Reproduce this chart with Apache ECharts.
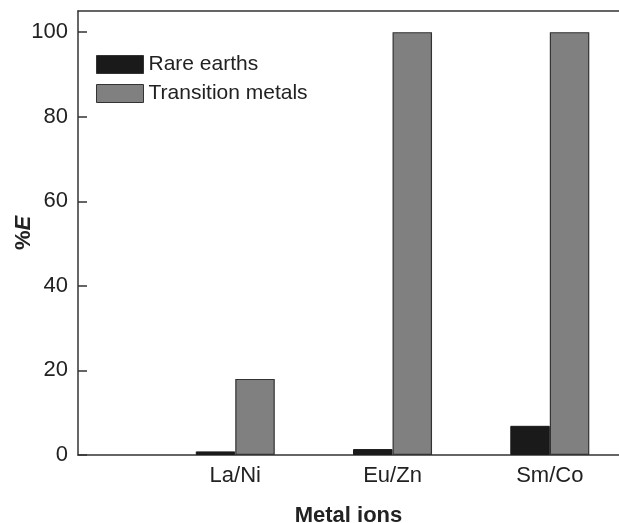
<!DOCTYPE html>
<html>
<head>
<meta charset="utf-8">
<script src="https://cdn.jsdelivr.net/npm/echarts@6/dist/echarts.min.js"></script>
<style>
  html, body { margin: 0; padding: 0; background: #fff; }
  #chart { width: 619px; height: 523px; }
</style>
</head>
<body>
<div id="chart"></div>
<script>
// 数据
var categories = ['La/Ni', 'Eu/Zn', 'Sm/Co'];
var positions = [1, 2, 3];
var rareEarths = [0.85, 1.4, 6.9];
var transitionMetals = [18, 100, 100];
var seriesNames = ['Rare earths', 'Transition metals'];

var font = 'Liberation Sans, Arial, sans-serif';

function pairs(vals) {
  return vals.map(function (v, i) { return [positions[i], v]; });
}

var option = {
  animation: false,
  legend: {
    orient: 'vertical',
    left: 96,
    top: 54,
    padding: 0,
    icon: 'rect',
    itemWidth: 47,
    itemHeight: 18,
    itemGap: 8,
    itemStyle: { borderColor: '#333', borderWidth: 1 },
    textStyle: { fontFamily: font, fontSize: 21, color: '#222', lineHeight: 18 },
    data: seriesNames
  },
  grid: { left: 78, right: 0, top: 11, bottom: 68, outerBoundsMode: 'none' },
  xAxis: [
    {
      type: 'value',
      min: 0,
      max: 3.44,
      interval: 1,
      name: 'Metal ions',
      nameLocation: 'middle',
      nameGap: 50,
      nameTextStyle: { fontFamily: font, fontSize: 22, fontWeight: 'bold', color: '#222' },
      axisLine: { show: true, lineStyle: { color: '#333', width: 1.5 } },
      axisTick: { show: false },
      splitLine: { show: false },
      axisLabel: {
        fontFamily: font, fontSize: 22, color: '#222', margin: 10,
        showMaxLabel: false,
        formatter: function (v) {
          var i = positions.indexOf(v);
          return i >= 0 ? categories[i] : '';
        }
      }
    },
    {
      type: 'value',
      position: 'top',
      min: 0,
      max: 3.44,
      axisLine: { show: true, onZero: false, lineStyle: { color: '#333', width: 1.5 } },
      axisTick: { show: false },
      axisLabel: { show: false },
      splitLine: { show: false }
    }
  ],
  yAxis: {
    type: 'value',
    min: 0,
    max: 105,
    interval: 20,
    name: '{b|%}{i|E}',
    nameLocation: 'middle',
    nameGap: 43,
    nameRotate: 90,
    nameMoveOverlap: false,
    nameTextStyle: {
      rich: {
        b: { fontFamily: font, fontSize: 22, fontWeight: 'bold', color: '#222' },
        i: { fontFamily: font, fontSize: 22, fontWeight: 'bold', fontStyle: 'italic', color: '#222' }
      }
    },
    axisLine: { show: true, lineStyle: { color: '#333', width: 1.5 } },
    axisTick: { show: true, inside: true, length: 9, lineStyle: { color: '#333', width: 1.5 } },
    splitLine: { show: false },
    axisLabel: { fontFamily: font, fontSize: 22, color: '#222', margin: 10, showMaxLabel: false }
  },
  series: [
    {
      name: seriesNames[0],
      type: 'bar',
      barWidth: 39.5,
      barGap: '0%',
      itemStyle: { color: '#1a1a1a', borderColor: '#1a1a1a', borderWidth: 1 },
      data: pairs(rareEarths)
    },
    {
      name: seriesNames[1],
      type: 'bar',
      barWidth: 39.5,
      barGap: '0%',
      itemStyle: { color: '#808080', borderColor: '#333', borderWidth: 1.2 },
      data: pairs(transitionMetals)
    }
  ]
};

var myChart = echarts.init(document.getElementById('chart'));
myChart.setOption(option);
</script>
</body>
</html>
